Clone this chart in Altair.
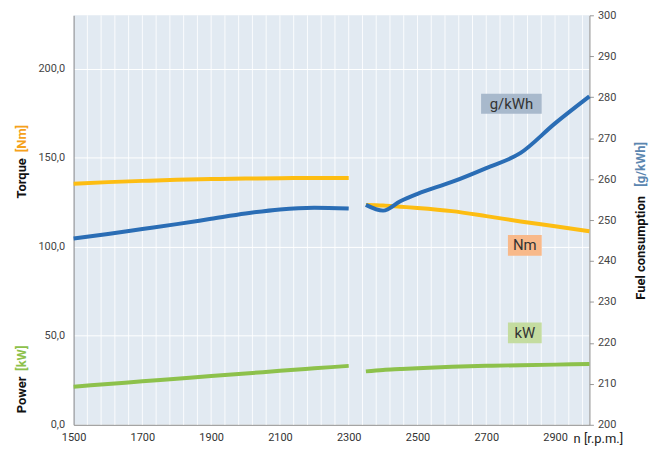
import altair as alt
import pandas as pd

# ---- data ----
rpm_low = [1500, 1600, 1700, 1800, 1900, 2000, 2100, 2200, 2300]
torque_low = [135.4, 136.3, 137.0, 137.6, 138.0, 138.3, 138.5, 138.6, 138.6]
power_low = [21.4, 22.9, 24.4, 25.9, 27.4, 28.8, 30.3, 31.7, 33.1]
fuel_low = [245.5, 246.6, 247.8, 249.0, 250.3, 251.6, 252.6, 253.0, 252.8]

rpm_high = [2350, 2400, 2450, 2500, 2600, 2700, 2800, 2900, 3000]
torque_high = [123.5, 123.2, 122.5, 121.8, 120.0, 117.2, 114.2, 111.5, 108.7]
power_high = [30.0, 30.8, 31.3, 31.8, 32.6, 33.1, 33.5, 33.8, 34.1]
fuel_high = [253.7, 252.3, 254.6, 256.4, 259.3, 262.7, 266.4, 273.6, 280.2]

x_ticks = [1500, 1700, 1900, 2100, 2300, 2500, 2700, 2900]
grid_step = 40
left_ticks = [0, 50, 100, 150, 200]
right_ticks = list(range(200, 301, 10))

# ---- build tables ----
rows_left = []
rows_right = []
for seg, rpms, tq, pw, fu in [("a", rpm_low, torque_low, power_low, fuel_low),
                              ("b", rpm_high, torque_high, power_high, fuel_high)]:
    for r, t, p, f in zip(rpms, tq, pw, fu):
        rows_left.append({"rpm": r, "value": t, "series": "Torque", "seg": "T" + seg})
        rows_left.append({"rpm": r, "value": p, "series": "Power", "seg": "P" + seg})
        rows_right.append({"rpm": r, "fuel": f, "series": "Fuel", "seg": "F" + seg})
df_left = pd.DataFrame(rows_left)
df_right = pd.DataFrame(rows_right)
df_grid = pd.DataFrame({"rpm": list(range(1500 + grid_step, 3000, grid_step))})

FONT = "Roboto"
ORANGE = "#fdbd12"
GREEN = "#8dc14b"
BLUE = "#2a6db5"

color_scale = alt.Scale(domain=["Torque", "Power", "Fuel"], range=[ORANGE, GREEN, BLUE])

x_axis = alt.Axis(
    values=x_ticks, format="d",
    grid=False, ticks=False,
    domainColor="#8a8a8a", labelFont=FONT, labelFontSize=11, labelColor="#333",
    labelPadding=7, labelFlush=False, labelOverlap=False, title=None,
)
x_scale = alt.Scale(domain=[1500, 3000], nice=False, zero=False)

vgrid = alt.Chart(df_grid).mark_rule(color="white", strokeWidth=1, opacity=0.85).encode(
    x=alt.X("rpm:Q", scale=x_scale, axis=x_axis),
)

left = alt.Chart(df_left).mark_line(strokeWidth=4, interpolate="monotone").encode(
    x=alt.X("rpm:Q", scale=x_scale, axis=x_axis),
    y=alt.Y(
        "value:Q",
        scale=alt.Scale(domain=[0, 230], nice=False),
        axis=alt.Axis(
            values=left_ticks,
            labelExpr="replace(format(datum.value, '.1f'), '.', ',')",
            grid=True, gridColor="white", ticks=False, domainColor="#8a8a8a",
            labelFont=FONT, labelFontSize=11, labelColor="#444", labelPadding=9, title=None,
        ),
    ),
    color=alt.Color("series:N", scale=color_scale, legend=None),
    detail="seg:N",
)

right = alt.Chart(df_right).mark_line(strokeWidth=4, interpolate="monotone").encode(
    x=alt.X("rpm:Q", scale=x_scale, axis=x_axis),
    y=alt.Y(
        "fuel:Q",
        scale=alt.Scale(domain=[200, 300], nice=False, zero=False),
        axis=alt.Axis(
            orient="right", values=right_ticks, format="d", grid=False,
            ticks=True, tickSize=4, tickColor="#999", domainColor="#8a8a8a",
            labelFont=FONT, labelFontSize=11, labelColor="#444", labelPadding=4, title=None,
        ),
    ),
    color=alt.Color("series:N", scale=color_scale, legend=None),
    detail="seg:N",
)

dummy = pd.DataFrame({"d": [0]})
base = alt.Chart(dummy)

def box(x1, x2, y1, y2, fill):
    return base.mark_rect(fill=fill).encode(
        x=alt.value(x1), x2=alt.value(x2), y=alt.value(y1), y2=alt.value(y2))

def txt(s, x, y, color="#333", size=15, weight="normal", angle=0, align="center"):
    return base.mark_text(
        text=s, font=FONT, fontSize=size, fontWeight=weight, color=color,
        angle=angle, align=align, baseline="middle",
    ).encode(x=alt.value(x), y=alt.value(y))

# plot area origin is (74, 14) on the page
OY = 4  # vertical offset relative to reference origin at y=10
annotations = [
    box(410, 471, 83 - OY, 103 - OY, "#a8b9cc"), txt("g/kWh", 440.5, 93 - OY),
    box(437, 471, 225 - OY, 246 - OY, "#f8b98a"), txt("Nm", 454, 235.5 - OY),
    box(437, 471, 313 - OY, 334 - OY, "#c4dca0"), txt("kW", 454, 323.5 - OY),
    txt("Torque", -52, 168 - OY, "#111", 13, "bold", 270),
    txt("[Nm]", -52, 128 - OY, "#f5a21c", 13, "bold", 270),
    txt("Power", -52, 386 - OY, "#111", 13, "bold", 270),
    txt("[kW]", -52, 349 - OY, GREEN, 13, "bold", 270),
    txt("Fuel consumption", 571, 238 - OY, "#111", 13, "bold", 270),
    txt("[g/kWh]", 571, 154 - OY, "#5b86b0", 13, "bold", 270),
    txt("n [r.p.m.]", 528, 430 - OY, "#222", 13),
]

chart = alt.layer(vgrid, left, right, *annotations).resolve_scale(y="independent").properties(
    width=519, height=412,
    autosize=alt.AutoSizeParams(type="none"),
    padding={"left": 66, "top": 6, "right": 70, "bottom": 22},
).configure_view(fill="#e2eaf2", stroke=None)

chart.save("out.html", embed_options={"renderer": "svg", "actions": False})
